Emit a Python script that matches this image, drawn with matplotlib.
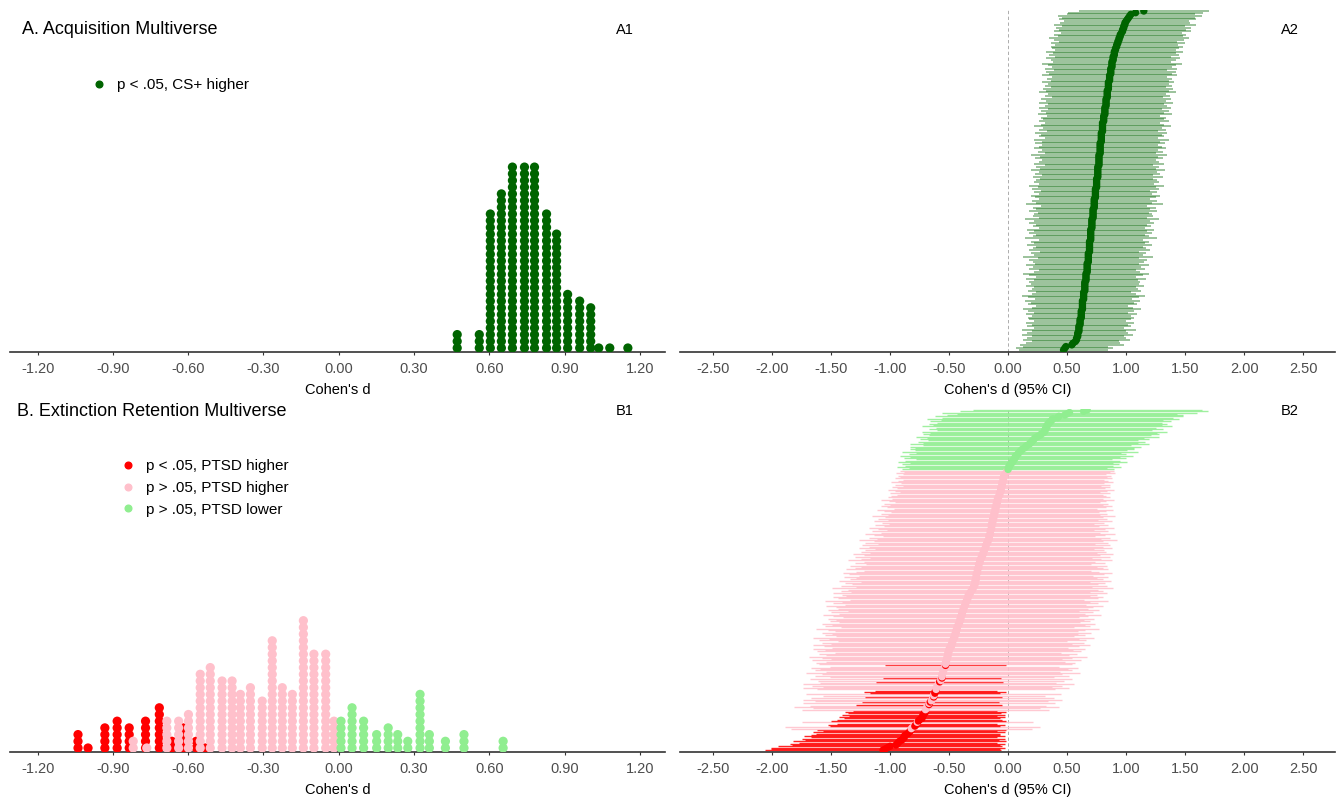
import numpy as np
import matplotlib
matplotlib.use('Agg')
import matplotlib.pyplot as plt
from matplotlib.lines import Line2D

plt.rcParams['font.family'] = ['Liberation Sans', 'DejaVu Sans']

W, H = 1344, 798

# A. acquisition multiverse: dot-plot bins (Cohen's d) and number of dots per bin
acq_bins = [0.472, 0.560, 0.604, 0.648, 0.692, 0.740, 0.780, 0.828, 0.868, 0.912, 0.960, 1.004, 1.036, 1.080, 1.152]
acq_counts = [3, 3, 21, 24, 28, 28, 28, 21, 18, 9, 8, 7, 1, 1, 1]
# per-specification d, sorted (bottom -> top)
acq_d = [
    0.47, 0.48, 0.49,
    0.54, 0.55, 0.57,
    0.58, 0.58, 0.59, 0.59, 0.59, 0.60, 0.60, 0.60, 0.60, 0.61, 0.61, 0.61, 0.61, 0.62, 0.62, 0.62, 0.62, 0.62, 0.63, 0.63, 0.63,
    0.63, 0.63, 0.63, 0.64, 0.64, 0.64, 0.64, 0.64, 0.65, 0.65, 0.65, 0.65, 0.65, 0.65, 0.66, 0.66, 0.66, 0.66, 0.66, 0.67, 0.67, 0.67, 0.67, 0.67,
    0.67, 0.68, 0.68, 0.68, 0.68, 0.68, 0.68, 0.69, 0.69, 0.69, 0.69, 0.69, 0.69, 0.69, 0.70, 0.70, 0.70, 0.70, 0.70, 0.70, 0.70, 0.71, 0.71, 0.71, 0.71, 0.71, 0.71, 0.72,
    0.72, 0.72, 0.72, 0.72, 0.72, 0.73, 0.73, 0.73, 0.73, 0.73, 0.73, 0.74, 0.74, 0.74, 0.74, 0.74, 0.74, 0.75, 0.75, 0.75, 0.75, 0.75, 0.75, 0.76, 0.76, 0.76, 0.76, 0.76,
    0.76, 0.76, 0.77, 0.77, 0.77, 0.77, 0.77, 0.77, 0.77, 0.78, 0.78, 0.78, 0.78, 0.78, 0.78, 0.78, 0.79, 0.79, 0.79, 0.79, 0.79, 0.79, 0.80, 0.80, 0.80, 0.80, 0.80, 0.80,
    0.81, 0.81, 0.81, 0.81, 0.82, 0.82, 0.82, 0.82, 0.82, 0.83, 0.83, 0.83, 0.83, 0.83, 0.84, 0.84, 0.84, 0.84, 0.84, 0.85, 0.85,
    0.85, 0.85, 0.85, 0.86, 0.86, 0.86, 0.86, 0.87, 0.87, 0.87, 0.87, 0.88, 0.88, 0.88, 0.88, 0.89, 0.89, 0.89,
    0.90, 0.90, 0.90, 0.91, 0.91, 0.92, 0.92, 0.93, 0.93,
    0.94, 0.94, 0.95, 0.95, 0.96, 0.97, 0.97, 0.98,
    0.98, 0.99, 0.99, 1.00, 1.01, 1.02, 1.03,
    1.04, 1.08, 1.15,
]
# 95% CI half widths, same row order
acq_hw = [
    0.38, 0.41, 0.36, 0.44, 0.40, 0.37, 0.45, 0.42, 0.39, 0.47, 0.43, 0.40, 0.48, 0.38, 0.44, 0.41, 0.46, 0.39, 0.43, 0.45,
    0.42, 0.47, 0.40, 0.45, 0.50, 0.43, 0.39, 0.46, 0.44, 0.49, 0.41, 0.47, 0.52, 0.44, 0.40, 0.48, 0.45, 0.43, 0.50, 0.46,
    0.47, 0.44, 0.51, 0.42, 0.48, 0.53, 0.45, 0.41, 0.49, 0.46, 0.52, 0.44, 0.47, 0.50, 0.43, 0.55, 0.46, 0.49, 0.42, 0.51,
    0.48, 0.45, 0.53, 0.47, 0.50, 0.44, 0.56, 0.49, 0.46, 0.52, 0.48, 0.54, 0.45, 0.50, 0.47, 0.53, 0.49, 0.57, 0.46, 0.51,
    0.50, 0.47, 0.54, 0.48, 0.52, 0.45, 0.58, 0.49, 0.53, 0.47, 0.51, 0.55, 0.48, 0.52, 0.46, 0.54, 0.50, 0.57, 0.49, 0.53,
    0.51, 0.48, 0.55, 0.47, 0.53, 0.50, 0.57, 0.49, 0.52, 0.46, 0.55, 0.51, 0.48, 0.54, 0.50, 0.58, 0.47, 0.53, 0.49, 0.56,
    0.52, 0.49, 0.55, 0.50, 0.57, 0.48, 0.53, 0.51, 0.56, 0.47, 0.54, 0.50, 0.58, 0.52, 0.49, 0.55, 0.51, 0.53, 0.48, 0.57,
    0.50, 0.54, 0.48, 0.56, 0.52, 0.49, 0.57, 0.51, 0.55, 0.47, 0.53, 0.50, 0.58, 0.52, 0.55, 0.49, 0.54, 0.51, 0.56, 0.50,
    0.53, 0.49, 0.57, 0.52, 0.55, 0.48, 0.56, 0.51, 0.54, 0.59, 0.50, 0.53, 0.57, 0.49, 0.55, 0.52, 0.58, 0.51, 0.54, 0.56,
    0.52, 0.57, 0.50, 0.55, 0.59, 0.53, 0.56, 0.51, 0.58, 0.54, 0.57, 0.52, 0.60, 0.55, 0.53, 0.58, 0.56, 0.61, 0.54, 0.57, 0.55,
]

# B. extinction retention multiverse, three groups (dot-plot bins and counts)
ext_red_bins = [-1.039, -0.999, -0.932, -0.883, -0.835, -0.770, -0.715, -0.665, -0.620, -0.568, -0.532]
ext_red_counts = [3, 1, 4, 5, 4, 5, 7, 2, 4, 2, 1]
ext_pink_bins = [-0.819, -0.765, -0.685, -0.638, -0.599, -0.552, -0.512, -0.465, -0.425, -0.392,
                 -0.352, -0.305, -0.265, -0.225, -0.185, -0.141, -0.099, -0.052, -0.019]
ext_pink_counts = [2, 1, 5, 5, 6, 12, 13, 11, 11, 9, 10, 8, 17, 10, 9, 20, 15, 15, 5]
ext_green_bins = [0.009, 0.053, 0.099, 0.151, 0.197, 0.235, 0.275, 0.324, 0.361, 0.425, 0.499, 0.655]
ext_green_counts = [5, 7, 5, 3, 4, 3, 2, 9, 3, 2, 3, 2]

# per-specification d and CI half widths for the B2 forest plot
ext_red_d = [
    -1.06, -1.04, -1.02, -1.00, -0.95, -0.94, -0.93, -0.92, -0.90, -0.89, -0.88, -0.88, -0.87,
    -0.85, -0.84, -0.83, -0.82, -0.79, -0.78, -0.77, -0.76, -0.75, -0.73, -0.73, -0.72, -0.72,
    -0.71, -0.70, -0.70, -0.67, -0.66, -0.63, -0.62, -0.62, -0.61, -0.58, -0.56, -0.53,
]
ext_red_hw = [
    1.00, 0.97, 0.99, 0.95, 0.88, 0.91, 0.84, 0.90, 0.82, 0.86, 0.79, 0.85, 0.80,
    0.78, 0.81, 0.74, 0.80, 0.72, 0.75, 0.68, 0.74, 0.70, 0.66, 0.70, 0.63, 0.69,
    0.65, 0.68, 0.61, 0.62, 0.58, 0.58, 0.55, 0.60, 0.52, 0.54, 0.50, 0.51,
]
ext_pink_d = [
    -0.82, -0.81, -0.77,
    -0.70, -0.69, -0.69, -0.68, -0.67,
    -0.65, -0.64, -0.64, -0.63, -0.63,
    -0.61, -0.61, -0.60, -0.60, -0.59, -0.59,
    -0.57, -0.57, -0.56, -0.56, -0.56, -0.55, -0.55, -0.55, -0.54, -0.54, -0.54, -0.53,
    -0.53, -0.53, -0.52, -0.52, -0.52, -0.51, -0.51, -0.51, -0.51, -0.50, -0.50, -0.50, -0.49,
    -0.48, -0.48, -0.48, -0.47, -0.47, -0.47, -0.46, -0.46, -0.45, -0.45, -0.45,
    -0.44, -0.44, -0.44, -0.43, -0.43, -0.43, -0.42, -0.42, -0.41, -0.41, -0.41,
    -0.40, -0.40, -0.40, -0.39, -0.39, -0.39, -0.38, -0.38, -0.38,
    -0.37, -0.37, -0.36, -0.36, -0.36, -0.35, -0.35, -0.34, -0.34, -0.34,
    -0.33, -0.32, -0.32, -0.31, -0.30, -0.30, -0.29, -0.29,
    -0.28, -0.28, -0.28, -0.28, -0.27, -0.27, -0.27, -0.27, -0.27, -0.26, -0.26, -0.26, -0.26, -0.25, -0.25, -0.25, -0.25,
    -0.24, -0.24, -0.24, -0.23, -0.23, -0.22, -0.22, -0.21, -0.21, -0.21,
    -0.20, -0.20, -0.19, -0.19, -0.19, -0.18, -0.18, -0.17, -0.17,
    -0.16, -0.16, -0.16, -0.16, -0.15, -0.15, -0.15, -0.15, -0.14, -0.14, -0.14, -0.14, -0.14, -0.13, -0.13, -0.13, -0.13, -0.12, -0.12, -0.12,
    -0.12, -0.11, -0.11, -0.11, -0.11, -0.10, -0.10, -0.10, -0.10, -0.09, -0.09, -0.09, -0.09, -0.08, -0.08,
    -0.07, -0.07, -0.07, -0.06, -0.06, -0.06, -0.06, -0.05, -0.05, -0.05, -0.05, -0.04, -0.04, -0.04, -0.04,
    -0.03, -0.03, -0.02, -0.01, -0.01,
]
ext_pink_hw = [
    1.02, 1.08, 0.98,
    1.05, 0.96, 1.12, 1.00, 1.07,
    0.99, 1.10, 1.03, 0.94, 1.08,
    1.01, 1.13, 0.97, 1.06, 1.15, 1.00,
    1.04, 1.11, 0.95, 1.08, 1.02, 1.16, 0.99, 1.09, 1.05, 1.13, 0.97, 1.07,
    1.10, 1.01, 1.14, 0.98, 1.06, 1.18, 1.03, 1.09, 0.96, 1.12, 1.05, 1.15, 1.00,
    1.08, 1.17, 1.02, 1.11, 0.97, 1.13, 1.06, 1.19, 1.01, 1.10, 1.04,
    1.14, 1.03, 1.09, 1.20, 0.99, 1.12, 1.07, 1.16, 1.02, 1.10, 1.05,
    1.13, 1.00, 1.08, 1.18, 1.04, 1.11, 0.98, 1.15, 1.06,
    1.09, 1.17, 1.02, 1.12, 1.05, 1.20, 0.99, 1.10, 1.14, 1.03,
    1.08, 1.16, 1.01, 1.11, 1.06, 1.19, 1.00, 1.13,
    1.04, 1.10, 0.97, 1.15, 1.07, 1.02, 1.12, 0.99, 1.08, 1.14, 1.03, 0.96, 1.11, 1.05, 1.00, 1.09, 0.95,
    1.06, 0.98, 1.12, 1.02, 0.94, 1.08, 1.00, 1.10, 0.96, 1.04,
    1.01, 0.93, 1.07, 0.99, 1.05, 0.92, 1.03, 0.97, 1.09,
    0.95, 1.02, 0.90, 0.98, 1.06, 0.93, 1.00, 0.88, 0.96, 1.04, 0.91, 0.99, 0.87, 0.94, 1.01, 0.89, 0.97, 0.92, 1.03, 0.90,
    0.96, 0.88, 0.94, 1.00, 0.86, 0.93, 0.98, 0.90, 0.95, 0.87, 0.92, 0.99, 0.89, 0.94, 0.91,
    0.87, 0.93, 0.85, 0.90, 0.96, 0.88, 0.92, 0.84, 0.91, 0.86, 0.94, 0.89, 0.85, 0.92, 0.88,
    0.90, 0.86, 0.93, 0.87, 0.91,
]
ext_green_d = [
    0.00, 0.00, 0.01, 0.01, 0.02,
    0.03, 0.04, 0.04, 0.05, 0.06, 0.06, 0.07,
    0.08, 0.09, 0.10, 0.11, 0.12,
    0.14, 0.15, 0.16,
    0.18, 0.19, 0.20, 0.21,
    0.22, 0.23, 0.25,
    0.27, 0.28,
    0.30, 0.31, 0.31, 0.32, 0.32, 0.33, 0.33, 0.34, 0.35,
    0.36, 0.37, 0.38,
    0.42, 0.43,
    0.48, 0.50, 0.52,
    0.64, 0.67,
]
ext_green_hw = [
    0.90, 0.84, 0.95, 0.88, 0.92,
    0.86, 0.97, 0.91, 0.83, 0.94, 0.89, 0.99,
    0.92, 0.87, 1.00, 0.90, 0.95,
    0.93, 0.98, 0.88,
    1.01, 0.91, 0.96, 0.89,
    0.97, 0.92, 1.03,
    0.94, 1.00,
    0.96, 1.04, 0.91, 0.99, 0.93, 1.06, 0.97, 1.01, 0.95,
    1.02, 0.94, 1.07,
    0.98, 1.05,
    1.00, 0.93, 1.08,
    1.05, 0.97,
]

dot_ticks = [-1.2, -0.9, -0.6, -0.3, 0.0, 0.3, 0.6, 0.9, 1.2]
dot_ticklabels = ['-1.20', '-0.90', '-0.60', '-0.30', '0.00', '0.30', '0.60', '0.90', '1.20']
ci_ticks = [-2.5, -2.0, -1.5, -1.0, -0.5, 0.0, 0.5, 1.0, 1.5, 2.0, 2.5]
ci_ticklabels = ['-2.50', '-2.00', '-1.50', '-1.00', '-0.50', '0.00', '0.50', '1.00', '1.50', '2.00', '2.50']

DARKGREEN = '#006400'
RED = '#FF0000'
PINK = '#FFC0CB'
LIGHTGREEN = '#90EE90'

DOT_STEP = 6.7      # px between stacked dots
DOT_S = 44          # marker area for dot plots
CI_S = 28


def box(l, t, r, b):
    return [l / W, 1 - b / H, (r - l) / W, (b - t) / H]


def style_axis(ax, ticks, labels, xlabel):
    for s in ['left', 'right', 'top']:
        ax.spines[s].set_visible(False)
    ax.spines['bottom'].set_color('#333333')
    ax.spines['bottom'].set_linewidth(1.2)
    ax.set_yticks([])
    ax.set_xticks(ticks)
    ax.set_xticklabels(labels)
    ax.tick_params(axis='x', length=2.5, width=0.8, color='#333333', pad=5,
                   labelsize=10.5, labelcolor='#4D4D4D')
    ax.set_xlabel(xlabel, fontsize=10.5, color='black', labelpad=4.4)
    ax.patch.set_visible(False)


def dotplot(ax, bins, counts, color, z):
    x = np.repeat(np.array(bins, dtype=float), counts)
    y = np.concatenate([np.arange(c) for c in counts]) + 0.6
    ax.scatter(x, y, s=DOT_S, color=color, edgecolors='none', zorder=z)


fig = plt.figure(figsize=(W / 100, H / 100), dpi=100)
ax_a1 = fig.add_axes(box(10, 10, 665, 352))
ax_a2 = fig.add_axes(box(680, 10, 1335, 352))
ax_b1 = fig.add_axes(box(10, 409, 665, 752))
ax_b2 = fig.add_axes(box(680, 409, 1335, 752))

# ---- A1 dot plot
dotplot(ax_a1, acq_bins, acq_counts, DARKGREEN, 3)
ax_a1.set_xlim(-1.31, 1.30)
ax_a1.set_ylim(0, 342 / DOT_STEP)
style_axis(ax_a1, dot_ticks, dot_ticklabels, "Cohen's d")
ax_a1.legend(handles=[Line2D([], [], ls='none', marker='o', ms=4.8, color=DARKGREEN)],
             labels=['p < .05, CS+ higher'], loc='upper left', bbox_to_anchor=(0.124, 0.80),
             frameon=False, fontsize=11, handlelength=1.0, handletextpad=0.7,
             borderpad=0, borderaxespad=0)

# ---- A2 forest plot
a_d = np.array(acq_d)
a_hw = np.array(acq_hw)
a_rows = np.arange(len(a_d))
ax_a2.axvline(0, color='#A0A0A0', lw=0.6, ls=(0, (4, 3)), zorder=1)
ax_a2.hlines(a_rows, a_d - a_hw, a_d + a_hw, color=DARKGREEN, alpha=0.5, lw=1.1, zorder=2)
ax_a2.scatter(a_d, a_rows, s=CI_S, color=DARKGREEN, edgecolors='none', zorder=3)
ax_a2.set_xlim(-2.78, 2.77)
ax_a2.set_ylim(-1.2, len(a_d) - 0.4)
style_axis(ax_a2, ci_ticks, ci_ticklabels, "Cohen's d (95% CI)")

# ---- B1 dot plot
dotplot(ax_b1, ext_red_bins, ext_red_counts, RED, 3)
dotplot(ax_b1, ext_pink_bins, ext_pink_counts, PINK, 4)
dotplot(ax_b1, ext_green_bins, ext_green_counts, LIGHTGREEN, 5)
ax_b1.set_xlim(-1.31, 1.30)
ax_b1.set_ylim(0, 343 / DOT_STEP)
style_axis(ax_b1, dot_ticks, dot_ticklabels, "Cohen's d")
ax_b1.legend(handles=[Line2D([], [], ls='none', marker='o', ms=4.8, color=c) for c in (RED, PINK, LIGHTGREEN)],
             labels=['p < .05, PTSD higher', 'p > .05, PTSD higher', 'p > .05, PTSD lower'],
             loc='upper left', bbox_to_anchor=(0.168, 0.853), frameon=False, fontsize=11,
             handlelength=1.0, handletextpad=0.7, labelspacing=0.5, borderpad=0, borderaxespad=0)

# ---- B2 forest plot
groups = [(ext_red_d, ext_red_hw, RED), (ext_pink_d, ext_pink_hw, PINK), (ext_green_d, ext_green_hw, LIGHTGREEN)]
b_vals = np.concatenate([np.array(d) for d, _, _ in groups])
b_hw = np.concatenate([np.array(hw) for _, hw, _ in groups])
b_cols = np.array(sum([[c] * len(d) for d, _, c in groups], []))
order = np.argsort(b_vals, kind='stable')
b_vals, b_hw, b_cols = b_vals[order], b_hw[order], b_cols[order]
b_rows = np.arange(len(b_vals))
ax_b2.axvline(0, color='#A0A0A0', lw=0.6, ls=(0, (4, 3)), zorder=1)
ax_b2.hlines(b_rows, b_vals - b_hw, b_vals + b_hw, colors=list(b_cols), alpha=0.85, lw=1.0, zorder=2)
ax_b2.scatter(b_vals, b_rows, s=CI_S, c=list(b_cols), edgecolors='none', zorder=3)
ax_b2.set_xlim(-2.78, 2.77)
ax_b2.set_ylim(-1.5, len(b_vals) - 0.2)
style_axis(ax_b2, ci_ticks, ci_ticklabels, "Cohen's d (95% CI)")

# ---- titles and panel tags
fig.text(22 / W, 1 - 30 / H, 'A. Acquisition Multiverse', fontsize=13, va='center', ha='left')
fig.text(17 / W, 1 - 411 / H, 'B. Extinction Retention Multiverse', fontsize=13, va='center', ha='left')
for tag, x, y in [('A1', 625, 30), ('A2', 1290, 30), ('B1', 625, 411), ('B2', 1290, 411)]:
    fig.text(x / W, 1 - y / H, tag, fontsize=10.5, va='center', ha='center')

fig.savefig('out.png', dpi=100, facecolor='white')
